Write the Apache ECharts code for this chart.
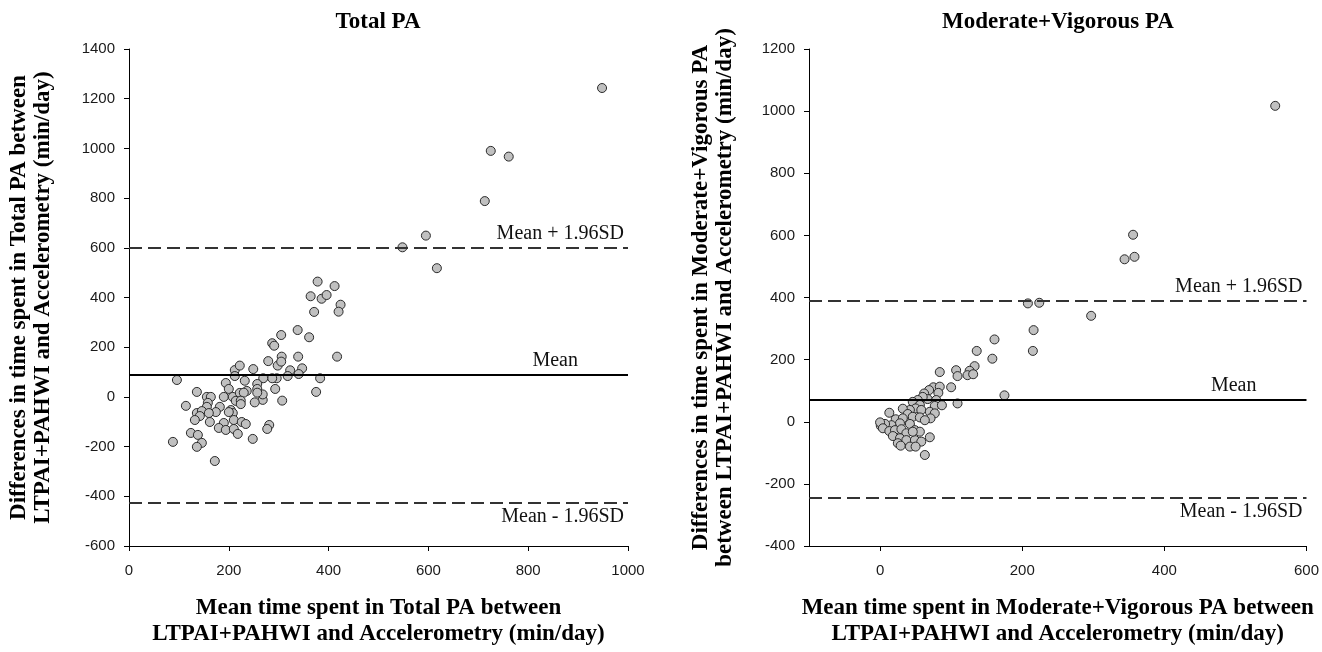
<!DOCTYPE html>
<html>
<head>
<meta charset="utf-8">
<title>Bland-Altman: Total PA and Moderate+Vigorous PA</title>
<script src="https://cdn.jsdelivr.net/npm/echarts@6/dist/echarts.min.js"></script>
<style>
  html, body { margin: 0; padding: 0; background: #ffffff; }
  #chart { width: 1322px; height: 652px; }
</style>
</head>
<body>
<div id="chart"></div>
<script>
// Total PA: mean of the two methods (x) and their difference (y), min/day
const totalMean = [
  212, 212, 194, 200, 190, 208, 214, 182, 174, 204, 208, 200, 210, 190, 180, 194, 210, 218,
  96, 136, 156, 164, 158, 156, 114, 136, 146, 142, 132, 160, 162, 124, 138, 146, 136, 88,
  172, 226, 234, 248, 281, 277, 222,
  548, 595, 617, 378, 412, 364, 386, 396, 424, 420, 371, 338, 361, 305, 287, 291, 417, 339,
  306, 279, 298, 305, 347, 323, 249, 222, 340, 318, 296, 287, 269, 383, 375, 307, 293, 268,
  252, 268, 257, 257, 257, 232, 236, 230, 224, 224,
  948, 725, 761, 713
];
const totalDiff = [
  108, 84, 56, 32, 0, 0, -16, -40, -61, -53, -65, -61, -93, -105, -125, -133, -129, -149,
  68, 20, 0, 0, -24, -40, -36, -65, -57, -77, -93, -65, -101, -145, -153, -185, -201, -181,
  -258, -101, -109, -169, -113, -129, 16,
  602, 649, 518, 464, 446, 405, 395, 410, 371, 343, 342, 269, 240, 249, 216, 206, 162, 162,
  162, 144, 126, 142, 115, 107, 112, 126, 92, 84, 75, 75, 75, 75, 20, -15, 32, -12,
  -22, 10, 52, 32, 17, 65, 24, 17, -15, -29,
  1243, 990, 967, 788
];
// Mean bias and limits of agreement: [mean, mean + 1.96SD, mean - 1.96SD]
const totalLimits = [88, 600, -424];

// Moderate+Vigorous PA
const mvpaMean = [
  556, 356, 344, 358, 208, 224, 297, 216, 215, 161, 136, 158, 84, 107, 109, 133, 126, 123,
  131, 100, 175, 109, 75, 84, 82, 69, 62, 67, 60, 79, 77, 87, 53, 46, 56, 50, 58, 42, 32,
  39, 70, 77, 71, 46, 56, 63, 13, 22, 32, 42, 28, 16, 7, 1, 0, 4, 13, 21, 30, 49, 56, 70,
  37, 18, 28, 37, 49, 58, 25, 42, 50, 29, 63, 46
];
const mvpaDiff = [
  1017, 602, 523, 531, 381, 383, 341, 295, 228, 265, 228, 203, 160, 166, 147, 179, 164, 150,
  153, 111, 85, 59, 111, 113, 93, 102, 91, 73, 80, 70, 51, 53, 70, 64, 54, 43, 38, 38, 42,
  25, 32, 27, 11, 16, 14, 5, 29, 8, 11, -7, -5, -11, -7, -13, -2, -21, -30, -27, -24, -27, -32, -50,
  -37, -46, -53, -59, -59, -64, -69, -80, -80, -77, -107, -32
];
const mvpaLimits = [72, 388, -244];

const limitNames = ['Mean', 'Mean + 1.96SD', 'Mean - 1.96SD'];

const serif = '"Liberation Serif", "DejaVu Serif", serif';
const sans = '"Liberation Sans", Arial, sans-serif';

function zip(xs, ys) {
  return xs.map((x, i) => [x, ys[i]]);
}

function limitLines(limits) {
  const solid = { color: '#000000', width: 2, type: 'solid' };
  const dashed = { color: '#333333', width: 2, type: [13, 6] };
  return {
    silent: true,
    symbol: 'none',
    animation: false,
    label: {
      color: '#111111',
      fontFamily: serif,
      fontSize: 20,
      distance: 4
    },
    data: [
      {
        yAxis: limits[0], lineStyle: solid,
        label: { formatter: limitNames[0], position: 'insideEndTop', padding: [0, 46, 0, 0] }
      },
      {
        yAxis: limits[1], lineStyle: dashed,
        label: { formatter: limitNames[1], position: 'insideEndTop', padding: [0, 0, 0, 0] }
      },
      {
        yAxis: limits[2], lineStyle: dashed,
        label: { formatter: limitNames[2], position: 'insideEndBottom', padding: [0, 0, 0, 0] }
      }
    ]
  };
}

const plain = (v) => String(v);
const axisLine = { show: true, onZero: false, lineStyle: { color: '#000000', width: 1 } };
const axisTick = { show: true, inside: false, length: 5, lineStyle: { color: '#000000' } };
const tickLabel = { color: '#1a1a1a', fontFamily: sans, fontSize: 15, formatter: plain };
const nameStyle = { color: '#000000', fontFamily: serif, fontSize: 23, fontWeight: 'bold', lineHeight: 26 };
const yNameStyle = Object.assign({}, nameStyle, { lineHeight: 24 });

const chart = echarts.init(document.getElementById('chart'), null, { renderer: 'canvas' });

chart.setOption({
  animation: false,
  backgroundColor: '#ffffff',
  graphic: [
    {
      type: 'text',
      x: 378, y: 22,
      style: {
        text: 'Total PA', x: 0, y: 0, align: 'center', verticalAlign: 'middle',
        fill: '#000000', font: 'bold 23px ' + serif
      }
    },
    {
      type: 'text',
      x: 1058, y: 22,
      style: {
        text: 'Moderate+Vigorous PA', x: 0, y: 0, align: 'center', verticalAlign: 'middle',
        fill: '#000000', font: 'bold 23px ' + serif
      }
    }
  ],
  grid: [
    { left: 129, right: 694, top: 49, bottom: 106, containLabel: false },
    { left: 809, right: 14, top: 49, bottom: 106, containLabel: false }
  ],
  xAxis: [
    {
      gridIndex: 0, type: 'value', min: 0, max: 1000, interval: 200,
      axisLine, axisTick, splitLine: { show: false },
      axisLabel: Object.assign({ margin: 17 }, tickLabel),
      name: 'Mean time spent in Total PA between\nLTPAI+PAHWI and Accelerometry (min/day)',
      nameLocation: 'middle', nameGap: 49, nameTextStyle: nameStyle
    },
    {
      gridIndex: 1, type: 'value', min: -100, max: 600,
      axisLine, splitLine: { show: false },
      axisTick: Object.assign({ customValues: [0, 200, 400, 600] }, axisTick),
      axisLabel: Object.assign({ margin: 17, customValues: [0, 200, 400, 600] }, tickLabel),
      name: 'Mean time spent in Moderate+Vigorous PA between\nLTPAI+PAHWI and Accelerometry (min/day)',
      nameLocation: 'middle', nameGap: 49, nameTextStyle: nameStyle
    }
  ],
  yAxis: [
    {
      gridIndex: 0, type: 'value', min: -600, max: 1400, interval: 200,
      axisLine, axisTick, splitLine: { show: false },
      axisLabel: Object.assign({ margin: 14 }, tickLabel),
      name: 'Differences in time spent in Total PA between\nLTPAI+PAHWI and Accelerometry (min/day)',
      nameLocation: 'middle', nameGap: 74, nameRotate: 90, nameTextStyle: yNameStyle
    },
    {
      gridIndex: 1, type: 'value', min: -400, max: 1200, interval: 200,
      axisLine, axisTick, splitLine: { show: false },
      axisLabel: Object.assign({ margin: 14 }, tickLabel),
      name: 'Differences in time spent in Moderate+Vigorous PA\nbetween LTPAI+PAHWI and Accelerometry (min/day)',
      nameLocation: 'middle', nameGap: 72, nameRotate: 90, nameTextStyle: yNameStyle
    }
  ],
  series: [
    {
      type: 'scatter', xAxisIndex: 0, yAxisIndex: 0,
      data: zip(totalMean, totalDiff),
      symbol: 'circle', symbolSize: 9,
      itemStyle: { color: '#c0c0c0', borderColor: '#2a2a2a', borderWidth: 1, opacity: 1 },
      markLine: limitLines(totalLimits),
      z: 3
    },
    {
      type: 'scatter', xAxisIndex: 1, yAxisIndex: 1,
      data: zip(mvpaMean, mvpaDiff),
      symbol: 'circle', symbolSize: 9,
      itemStyle: { color: '#c0c0c0', borderColor: '#2a2a2a', borderWidth: 1, opacity: 1 },
      markLine: limitLines(mvpaLimits),
      z: 3
    }
  ]
});
</script>
</body>
</html>
